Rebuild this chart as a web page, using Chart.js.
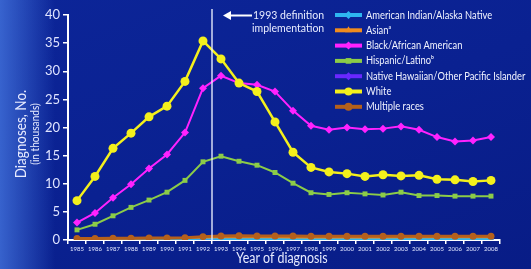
<!DOCTYPE html>
<html>
<head>
<meta charset="utf-8">
<script src="https://cdn.jsdelivr.net/npm/chart.js@4/dist/chart.umd.min.js"></script>
<style>
  html, body { margin: 0; padding: 0; }
  body {
    width: 531px; height: 269px; overflow: hidden;
    background:
      linear-gradient(90deg, rgba(70,120,225,0.75) 0px, rgba(70,120,225,0) 55px),
      linear-gradient(160deg, #0c2598 0%, #0a2191 50%, #081c86 100%);
  }
  #wrap { position: relative; width: 531px; height: 269px; }
  canvas { display: block; }
</style>
</head>
<body>
<div id="wrap"><canvas id="chart" width="531" height="269"></canvas></div>
<script>
const years = ['1985','1986','1987','1988','1989','1990','1991','1992','1993','1994','1995','1996',
  '1997','1998','1999','2000','2001','2002','2003','2004','2005','2006','2007','2008'];

const white = [7.0, 11.3, 16.3, 19.0, 21.9, 23.8, 28.2, 35.4, 32.2, 27.9, 26.4, 21.0,
  15.6, 12.9, 12.1, 11.8, 11.3, 11.6, 11.4, 11.5, 10.8, 10.7, 10.4, 10.6];
const black = [3.1, 4.8, 7.5, 9.9, 12.7, 15.2, 19.1, 27.0, 29.2, 27.9, 27.6, 26.4,
  23.0, 20.3, 19.6, 20.0, 19.7, 19.8, 20.2, 19.6, 18.3, 17.5, 17.7, 18.3];
const hispanic = [1.8, 2.8, 4.3, 5.8, 7.1, 8.5, 10.6, 13.9, 14.9, 14.0, 13.3, 12.0,
  10.1, 8.4, 8.1, 8.4, 8.2, 8.0, 8.5, 7.9, 7.9, 7.8, 7.8, 7.8];
const aian = [0.1, 0.1, 0.1, 0.1, 0.1, 0.1, 0.15, 0.2, 0.2, 0.2, 0.2, 0.2,
  0.2, 0.2, 0.2, 0.2, 0.2, 0.2, 0.2, 0.2, 0.2, 0.2, 0.2, 0.2];
const asian = [0.2, 0.2, 0.25, 0.25, 0.3, 0.3, 0.35, 0.45, 0.5, 0.5, 0.5, 0.5,
  0.45, 0.45, 0.45, 0.45, 0.45, 0.45, 0.5, 0.5, 0.5, 0.5, 0.5, 0.5];
const nhopi = [0, 0, 0, 0, 0, 0, 0, 0, 0, 0, 0, 0,
  0, 0, 0, 0, 0, 0, 0, 0, 0, 0, 0, 0];
const multiple = [0.25, 0.25, 0.3, 0.3, 0.35, 0.35, 0.4, 0.6, 0.7, 0.75, 0.7, 0.7,
  0.7, 0.65, 0.65, 0.65, 0.65, 0.65, 0.65, 0.65, 0.65, 0.65, 0.65, 0.65];

const yTicks = [0, 5, 10, 15, 20, 25, 30, 35, 40];

const series = [
  { label: 'American Indian/Alaska Native', data: aian, color: '#2eb6f0', style: 'rectRot', r: 3, w: 2, order: 5 },
  { label: 'Asian\u1d43', data: asian, color: '#f08c1e', style: 'triangle', r: 3, w: 2, order: 4 },
  { label: 'Black/African American', data: black, color: '#ff22ff', style: 'rectRot', r: 4, w: 2, order: 2 },
  { label: 'Hispanic/Latino\u1d47', data: hispanic, color: '#8ccc48', style: 'rect', r: 3.5, w: 2, order: 3 },
  { label: 'Native Hawaiian/Other Pacific Islander', data: nhopi, color: '#6a28ff', style: 'rectRot', r: 3, w: 2.5, order: 6 },
  { label: 'White', data: white, color: '#f4f01c', style: 'circle', r: 4.5, w: 2.5, order: 1 },
  { label: 'Multiple races', data: multiple, color: '#b4601c', style: 'circle', r: 3.5, w: 3, order: 0 }
];

const FONT = 'Lato, "Open Sans", sans-serif';

// draw text squeezed horizontally, like the narrow face of the original slide
function narrowText(ctx, text, x, y, squeeze) {
  const w = ctx.measureText(text).width;
  ctx.fillText(text, x, y, w * squeeze);
}

const extras = {
  id: 'extras',
  afterDatasetsDraw(chart) {
    const ctx = chart.ctx;
    const x = chart.scales.x;
    const area = chart.chartArea;
    const lx = (x.getPixelForValue(7) + x.getPixelForValue(8)) / 2;
    ctx.save();
    // definition change line
    ctx.strokeStyle = 'rgba(235,240,255,0.9)';
    ctx.lineWidth = 1.5;
    ctx.beginPath();
    ctx.moveTo(lx, 9);
    ctx.lineTo(lx, area.bottom);
    ctx.stroke();
    // arrow
    ctx.strokeStyle = '#ffffff';
    ctx.fillStyle = '#ffffff';
    ctx.lineWidth = 2;
    ctx.beginPath();
    ctx.moveTo(252, 15.5);
    ctx.lineTo(229, 15.5);
    ctx.stroke();
    ctx.beginPath();
    ctx.moveTo(223, 15.5);
    ctx.lineTo(231, 11);
    ctx.lineTo(231, 20);
    ctx.closePath();
    ctx.fill();
    ctx.font = '10.5px ' + FONT;
    ctx.fillStyle = '#e8ecff';
    ctx.textBaseline = 'middle';
    ctx.textAlign = 'left';
    narrowText(ctx, '1993 definition', 253, 16, 1.02);
    narrowText(ctx, 'implementation', 252, 29, 1.0);

    // legend
    const lgX = 335, lgY = 15, step = 15.3;
    chart.data.datasets.forEach((ds, i) => {
      const s = series[i];
      const y = lgY + i * step;
      ctx.strokeStyle = s.color;
      ctx.lineWidth = 4;
      ctx.beginPath();
      ctx.moveTo(lgX, y);
      ctx.lineTo(lgX + 27, y);
      ctx.stroke();
      ctx.fillStyle = s.color;
      Chart.helpers.drawPoint(ctx, {
        pointStyle: s.style, radius: 4, rotation: 0, borderWidth: 0
      }, lgX + 13.5, y);
      ctx.fillStyle = '#f2f4ff';
      ctx.font = '11px ' + FONT;
      narrowText(ctx, s.label, 366, y, 0.85);
    });

    // axis titles
    ctx.fillStyle = '#e8ecff';
    ctx.textAlign = 'center';
    ctx.font = '15.5px ' + FONT;
    narrowText(ctx, 'Year of diagnosis', 282, 258, 0.8);
    ctx.save();
    ctx.translate(21, 134);
    ctx.rotate(-Math.PI / 2);
    ctx.font = '15px ' + FONT;
    narrowText(ctx, 'Diagnoses, No.', 0, 0, 0.9);
    ctx.restore();
    ctx.save();
    ctx.translate(35, 134);
    ctx.rotate(-Math.PI / 2);
    ctx.font = '11px ' + FONT;
    narrowText(ctx, '(in thousands)', 0, 0, 0.92);
    ctx.restore();
    ctx.restore();
  }
};

new Chart(document.getElementById('chart'), {
  type: 'line',
  data: {
    labels: years,
    datasets: series.map(s => ({
      label: s.label,
      data: s.data,
      borderColor: s.color,
      backgroundColor: s.color,
      borderWidth: s.w,
      pointStyle: s.style,
      pointRadius: s.r,
      pointBorderWidth: 0,
      pointBackgroundColor: s.color,
      tension: 0,
      fill: false,
      order: s.order
    }))
  },
  options: {
    responsive: false,
    animation: false,
    devicePixelRatio: 1,
    layout: { padding: { top: 15, right: 31, left: 0, bottom: 0 } },
    plugins: { legend: { display: false }, tooltip: { enabled: false } },
    scales: {
      x: {
        offset: true,
        afterFit(scale) { scale.height = 29; },
        border: { color: '#ffffff', width: 2 },
        grid: { offset: true, drawOnChartArea: false, color: '#ffffff', tickLength: 4, lineWidth: 1.5 },
        ticks: {
          color: '#dfe4ff', font: { size: 6, family: FONT },
          maxRotation: 0, autoSkip: false, padding: 1
        }
      },
      y: {
        min: 0, max: 40,
        afterFit(scale) { scale.width = 68; },
        afterBuildTicks(scale) { scale.ticks = yTicks.map(v => ({ value: v })); },
        border: { color: '#ffffff', width: 2 },
        grid: { drawOnChartArea: false, color: '#ffffff', tickLength: 5, lineWidth: 1.5 },
        ticks: { color: '#dfe4ff', font: { size: 13, family: FONT }, padding: 3 }
      }
    }
  },
  plugins: [extras]
});
</script>
</body>
</html>
